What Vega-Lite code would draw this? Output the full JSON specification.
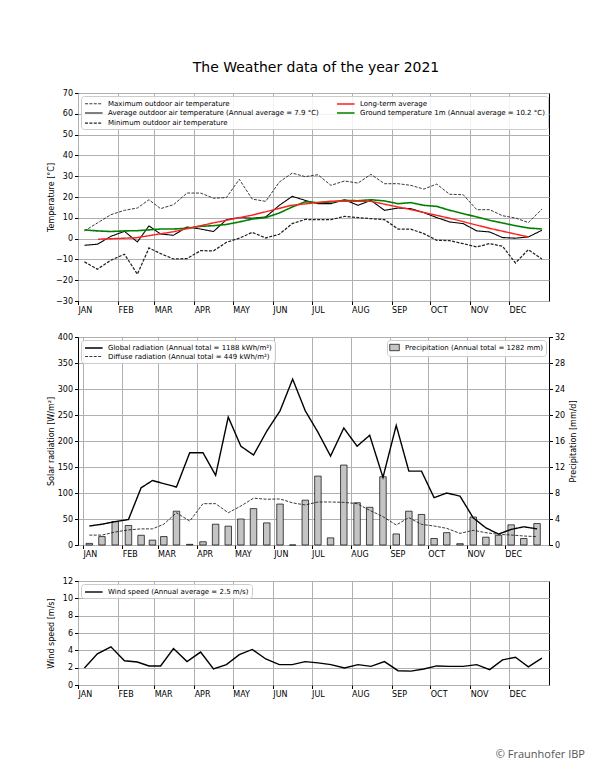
{
  "$schema": "https://vega.github.io/schema/vega-lite/v6.json",
  "background": "white",
  "padding": {"left": 46, "top": 60, "right": 10, "bottom": 10},
  "title": {"text": "The Weather data of the year 2021", "font": "DejaVu Sans", "fontSize": 14, "fontWeight": "normal", "color": "#000", "anchor": "middle", "offset": 14},
  "config": {
    "font": "DejaVu Sans",
    "view": {"stroke": "#000", "strokeWidth": 1},
    "axis": {"labelFont": "DejaVu Sans", "labelFontSize": 8, "labelColor": "#000", "titleFont": "DejaVu Sans", "titleFontSize": 8, "titleFontWeight": "normal", "titleColor": "#000", "gridColor": "#b0b0b0", "gridWidth": 1, "domain": false, "tickColor": "#000", "tickSize": 3.5, "labelPadding": 2},
    "legend": {"offset": 3, "padding": 3, "strokeColor": "#cccccc", "fillColor": "rgba(255,255,255,0.85)", "cornerRadius": 3, "labelFont": "DejaVu Sans", "labelFontSize": 7, "labelColor": "#000", "labelLimit": 600, "rowPadding": 1, "labelOffset": 14, "columnPadding": 14, "symbolSize": 64, "symbolStrokeWidth": 1.5}
  },
  "datasets": {
    "dekads": [
      {"day": 5, "tmax": 3.7, "tavg": -3.2, "tmin": -11.2, "tground": 4.2, "global": 36.5, "diffuse": 19, "precip": 0.25, "wind": 1.96},
      {"day": 15, "tmax": 7.5, "tavg": -2.7, "tmin": -14.7, "tground": 3.7, "global": 40, "diffuse": 19, "precip": 1.3, "wind": 3.6},
      {"day": 25.5, "tmax": 11.5, "tavg": 1.1, "tmin": -10.4, "tground": 3.4, "global": 45, "diffuse": 25, "precip": 3.6, "wind": 4.4},
      {"day": 36, "tmax": 13.6, "tavg": 3.5, "tmin": -7.5, "tground": 3.7, "global": 49, "diffuse": 29, "precip": 3.0, "wind": 2.8},
      {"day": 46, "tmax": 14.7, "tavg": -1.6, "tmin": -17.1, "tground": 3.8, "global": 110, "diffuse": 31, "precip": 1.5, "wind": 2.65},
      {"day": 55, "tmax": 18.7, "tavg": 6.1, "tmin": -4.5, "tground": 4.2, "global": 124, "diffuse": 31, "precip": 0.75, "wind": 2.2},
      {"day": 64, "tmax": 14.4, "tavg": 2.2, "tmin": -7.2, "tground": 4.6, "global": 118, "diffuse": 40, "precip": 1.3, "wind": 2.2},
      {"day": 74, "tmax": 16.3, "tavg": 1.6, "tmin": -9.8, "tground": 4.6, "global": 111.5, "diffuse": 62, "precip": 5.2, "wind": 4.2},
      {"day": 84.5, "tmax": 21.9, "tavg": 5.6, "tmin": -9.6, "tground": 5.0, "global": 177.5, "diffuse": 46, "precip": 0.1, "wind": 2.7},
      {"day": 95, "tmax": 21.9, "tavg": 4.6, "tmin": -5.8, "tground": 5.9, "global": 177.5, "diffuse": 79.5, "precip": 0.5, "wind": 3.8},
      {"day": 105, "tmax": 19.4, "tavg": 3.4, "tmin": -5.9, "tground": 6.2, "global": 134, "diffuse": 79.5, "precip": 3.2, "wind": 1.85},
      {"day": 115, "tmax": 19.7, "tavg": 9.1, "tmin": -1.8, "tground": 6.8, "global": 246, "diffuse": 62, "precip": 2.9, "wind": 2.35},
      {"day": 125, "tmax": 28.5, "tavg": 10.1, "tmin": 0.2, "tground": 8.0, "global": 190, "diffuse": 75, "precip": 4.0, "wind": 3.5},
      {"day": 135, "tmax": 19, "tavg": 9.8, "tmin": 3.0, "tground": 9.4, "global": 173, "diffuse": 90, "precip": 5.6, "wind": 4.1},
      {"day": 145.5, "tmax": 17.9, "tavg": 10.4, "tmin": 0.3, "tground": 10.1, "global": 219, "diffuse": 88, "precip": 3.4, "wind": 3.0},
      {"day": 156, "tmax": 27.2, "tavg": 16, "tmin": 2.1, "tground": 12.3, "global": 258, "diffuse": 88.5, "precip": 6.3, "wind": 2.35},
      {"day": 166, "tmax": 31.5, "tavg": 20.3, "tmin": 7.2, "tground": 15.2, "global": 319, "diffuse": 81, "precip": 0, "wind": 2.35},
      {"day": 176, "tmax": 29.8, "tavg": 18.4, "tmin": 9.2, "tground": 17.7, "global": 258, "diffuse": 77, "precip": 6.9, "wind": 2.7},
      {"day": 186, "tmax": 30.7, "tavg": 16.8, "tmin": 9.1, "tground": 17.3, "global": 217, "diffuse": 82.7, "precip": 10.6, "wind": 2.55},
      {"day": 196, "tmax": 25.6, "tavg": 16.8, "tmin": 9.1, "tground": 17.6, "global": 171, "diffuse": 82.7, "precip": 1.1, "wind": 2.35},
      {"day": 206.5, "tmax": 27.7, "tavg": 18.7, "tmin": 10.7, "tground": 18.4, "global": 225, "diffuse": 82, "precip": 12.3, "wind": 1.96},
      {"day": 217, "tmax": 26.7, "tavg": 16, "tmin": 10.1, "tground": 18.2, "global": 190, "diffuse": 79.5, "precip": 6.5, "wind": 2.35},
      {"day": 227, "tmax": 30.9, "tavg": 18.4, "tmin": 9.6, "tground": 18.7, "global": 211, "diffuse": 66.7, "precip": 5.8, "wind": 2.15},
      {"day": 237.5, "tmax": 26.4, "tavg": 13.6, "tmin": 9.1, "tground": 18.1, "global": 130, "diffuse": 54.5, "precip": 10.5, "wind": 2.7},
      {"day": 248, "tmax": 26.4, "tavg": 14.7, "tmin": 4.6, "tground": 16.8, "global": 230, "diffuse": 38.5, "precip": 1.7, "wind": 1.65},
      {"day": 258, "tmax": 25.6, "tavg": 14.4, "tmin": 4.5, "tground": 17.3, "global": 142, "diffuse": 52.5, "precip": 5.2, "wind": 1.6},
      {"day": 268, "tmax": 23.8, "tavg": 12.5, "tmin": 2.4, "tground": 16, "global": 142, "diffuse": 39.7, "precip": 4.7, "wind": 1.85},
      {"day": 278, "tmax": 26.2, "tavg": 10.1, "tmin": -0.8, "tground": 15.5, "global": 91, "diffuse": 36.5, "precip": 1.0, "wind": 2.2},
      {"day": 288, "tmax": 21.3, "tavg": 8, "tmin": -1, "tground": 13.6, "global": 100, "diffuse": 32, "precip": 1.9, "wind": 2.15},
      {"day": 298.5, "tmax": 21.1, "tavg": 7.2, "tmin": -2.4, "tground": 12, "global": 94, "diffuse": 22.4, "precip": 0.2, "wind": 2.15},
      {"day": 309, "tmax": 13.9, "tavg": 3.7, "tmin": -4, "tground": 10.4, "global": 52, "diffuse": 28.2, "precip": 4.3, "wind": 2.35},
      {"day": 319, "tmax": 13.9, "tavg": 3.2, "tmin": -2.4, "tground": 8.8, "global": 33, "diffuse": 23.7, "precip": 1.2, "wind": 1.77},
      {"day": 329, "tmax": 11, "tavg": 0.5, "tmin": -3.7, "tground": 7.5, "global": 21, "diffuse": 20.5, "precip": 1.5, "wind": 2.9},
      {"day": 339, "tmax": 9.9, "tavg": 0.2, "tmin": -11.7, "tground": 6.2, "global": 30, "diffuse": 19.2, "precip": 3.1, "wind": 3.2},
      {"day": 349, "tmax": 7.7, "tavg": 0.8, "tmin": -5.3, "tground": 5.1, "global": 35, "diffuse": 17.3, "precip": 1.0, "wind": 2.1},
      {"day": 359.5, "tmax": 14.2, "tavg": 4, "tmin": -9.8, "tground": 4.6, "global": 31, "diffuse": 16, "precip": 3.3, "wind": 3.1}
    ],
    "monthly": [
      {"day": 15.5, "tlong": -0.3},
      {"day": 45, "tlong": 0.4},
      {"day": 74, "tlong": 3.3},
      {"day": 104.5, "tlong": 7.5},
      {"day": 135, "tlong": 11.3},
      {"day": 165.5, "tlong": 16},
      {"day": 196, "tlong": 18},
      {"day": 227, "tlong": 17.9},
      {"day": 257.5, "tlong": 14},
      {"day": 288, "tlong": 9.8},
      {"day": 318.5, "tlong": 5},
      {"day": 349, "tlong": 0.8}
    ]
  },
  "bounds": "flush",
  "spacing": 36,
  "resolve": {"scale": {"color": "independent", "strokeDash": "independent", "strokeWidth": "independent", "fill": "independent"}, "legend": {"color": "independent", "strokeDash": "independent", "strokeWidth": "independent", "fill": "independent"}},
  "vconcat": [
    {
      "width": 471,
      "height": 208,
      "encoding": {
        "x": {"field": "day", "type": "quantitative", "scale": {"domain": [0, 365], "nice": false, "zero": false}, "axis": {"values": [0, 31, 59, 90, 120, 151, 181, 212, 243, 273, 304, 334], "labelExpr": "upper(timeFormat(datetime(2021, 0, 1 + datum.value), '%b'))", "labelAlign": "left", "labelFlush": false, "labelOverlap": false, "title": null, "grid": true}},
        "y": {"field": "value", "type": "quantitative", "scale": {"domain": [-30, 70], "nice": false, "zero": false}, "axis": {"values": [-30, -20, -10, 0, 10, 20, 30, 40, 50, 60, 70], "title": "Temperature [°C]", "titleAngle": 270, "titleBaseline": "middle", "titleX": -27, "grid": true, "labelOverlap": false}},
        "color": {"field": "series", "type": "nominal", "scale": {"domain": ["tmax", "tavg", "tmin", "tlong", "tground"], "range": ["#222222", "#000000", "#222222", "#ff2020", "#008000"]}, "legend": {"title": null, "orient": "top-left", "columns": 2, "symbolType": "M-1,0H3.4", "labelExpr": "datum.label == 'tmax' ? 'Maximum outdoor air temperature' : datum.label == 'tlong' ? 'Long-term average' : datum.label == 'tavg' ? 'Average outdoor air temperature (Annual average = 7.9 °C)' : datum.label == 'tground' ? 'Ground temperature 1m (Annual average = 10.2 °C)' : 'Minimum outdoor air temperature'"}},
        "strokeDash": {"field": "series", "type": "nominal", "scale": {"domain": ["tmax", "tavg", "tmin", "tlong", "tground"], "range": [[3, 1.4], [1, 0], [3, 1.4], [1, 0], [1, 0]]}, "legend": {"title": null, "orient": "top-left", "columns": 2, "symbolType": "M-1,0H3.4"}},
        "strokeWidth": {"field": "series", "type": "nominal", "scale": {"domain": ["tmax", "tavg", "tmin", "tlong", "tground"], "range": [0.9, 1.6, 0.9, 1.1, 1.6]}, "legend": {"title": null, "orient": "top-left", "columns": 2, "symbolType": "M-1,0H3.4"}}
      },
      "layer": [
        {
          "data": {"name": "dekads"},
          "transform": [{"fold": ["tmax", "tavg", "tmin", "tground"], "as": ["series", "value"]}],
          "mark": {"type": "line"}
        },
        {
          "data": {"name": "monthly"},
          "transform": [{"fold": ["tlong"], "as": ["series", "value"]}],
          "mark": {"type": "line"}
        }
      ]
    },
    {
      "width": 471,
      "height": 208,
      "data": {"name": "dekads"},
      "layer": [
        {
          "mark": {"type": "bar", "width": 6.5, "stroke": "#000", "strokeWidth": 0.7},
          "encoding": {
            "x": {"field": "day", "type": "quantitative", "scale": {"domain": [0, 365], "nice": false, "zero": false}, "axis": {"values": [0, 31, 59, 90, 120, 151, 181, 212, 243, 273, 304, 334], "labelExpr": "upper(timeFormat(datetime(2021, 0, 1 + datum.value), '%b'))", "labelAlign": "left", "labelFlush": false, "labelOverlap": false, "title": null, "grid": true}},
            "y": {"field": "precip", "type": "quantitative", "scale": {"domain": [0, 32], "nice": false}, "axis": {"orient": "right", "values": [0, 4, 8, 12, 16, 20, 24, 28, 32], "grid": false, "title": "Precipitation [mm/d]", "titleAngle": 270, "titleBaseline": "middle", "titleX": 24, "labelOverlap": false}},
            "fill": {"datum": "precip", "type": "nominal", "scale": {"domain": ["precip"], "range": ["#c4c4c4"]}, "legend": {"title": null, "orient": "top-right", "symbolType": "M-1.2,-0.8H1.2V0.8H-1.2Z", "symbolStrokeColor": "#000", "symbolStrokeWidth": 0.7, "labelOffset": 6, "labelExpr": "'Precipitation (Annual total = 1282 mm)'"}}
          }
        },
        {
          "transform": [{"fold": ["global", "diffuse"], "as": ["series", "value"]}],
          "mark": {"type": "line"},
          "encoding": {
            "x": {"field": "day", "type": "quantitative", "scale": {"domain": [0, 365], "nice": false, "zero": false}, "axis": {"values": [0, 31, 59, 90, 120, 151, 181, 212, 243, 273, 304, 334], "labelExpr": "upper(timeFormat(datetime(2021, 0, 1 + datum.value), '%b'))", "labelAlign": "left", "labelFlush": false, "labelOverlap": false, "title": null, "grid": true}},
            "y": {"field": "value", "type": "quantitative", "scale": {"domain": [0, 400], "nice": false}, "axis": {"orient": "left", "values": [0, 50, 100, 150, 200, 250, 300, 350, 400], "title": "Solar radiation [W/m²]", "titleAngle": 270, "titleBaseline": "middle", "titleX": -27, "grid": true, "labelOverlap": false}},
            "color": {"field": "series", "type": "nominal", "scale": {"domain": ["global", "diffuse"], "range": ["#000000", "#222222"]}, "legend": {"title": null, "orient": "top-left", "symbolType": "M-1,0H3.4", "labelExpr": "datum.label == 'global' ? 'Global radiation (Annual total = 1188 kWh/m²)' : 'Diffuse radiation (Annual total = 449 kWh/m²)'"}},
            "strokeDash": {"field": "series", "type": "nominal", "scale": {"domain": ["global", "diffuse"], "range": [[1, 0], [3, 1.4]]}, "legend": {"title": null, "orient": "top-left", "symbolType": "M-1,0H3.4"}},
            "strokeWidth": {"field": "series", "type": "nominal", "scale": {"domain": ["global", "diffuse"], "range": [1.4, 0.9]}, "legend": {"title": null, "orient": "top-left", "symbolType": "M-1,0H3.4"}}
          }
        }
      ],
      "resolve": {"scale": {"y": "independent"}}
    },
    {
      "width": 471,
      "height": 104,
      "data": {"name": "dekads"},
      "title": {"text": "© Fraunhofer IBP", "orient": "bottom", "anchor": "end", "offset": 50, "dx": 36, "font": "Open Sans", "fontSize": 11, "fontWeight": "normal", "color": "#555555"},
      "mark": {"type": "line", "strokeWidth": 1.4},
      "encoding": {
        "x": {"field": "day", "type": "quantitative", "scale": {"domain": [0, 365], "nice": false, "zero": false}, "axis": {"values": [0, 31, 59, 90, 120, 151, 181, 212, 243, 273, 304, 334], "labelExpr": "upper(timeFormat(datetime(2021, 0, 1 + datum.value), '%b'))", "labelAlign": "left", "labelFlush": false, "labelOverlap": false, "title": null, "grid": true}},
        "y": {"field": "wind", "type": "quantitative", "scale": {"domain": [0, 12], "nice": false}, "axis": {"values": [0, 2, 4, 6, 8, 10, 12], "title": "Wind speed [m/s]", "titleAngle": 270, "titleBaseline": "middle", "titleX": -27, "grid": true, "labelOverlap": false}},
        "color": {"datum": "wind", "type": "nominal", "scale": {"domain": ["wind"], "range": ["#000000"]}, "legend": {"title": null, "orient": "top-left", "symbolType": "M-1,0H3.4", "symbolStrokeWidth": 1.4, "labelExpr": "'Wind speed (Annual average = 2.5 m/s)'"}}
      }
    }
  ]
}
